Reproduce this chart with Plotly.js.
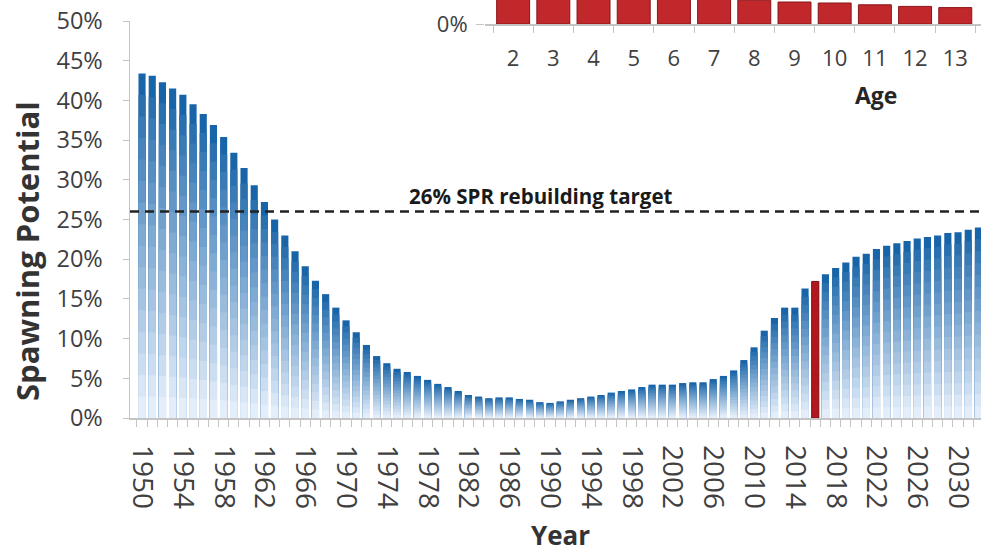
<!DOCTYPE html>
<html><head><meta charset="utf-8">
<script src="https://cdn.plot.ly/plotly-3.0.1.min.js"></script>
<style>html,body{margin:0;padding:0;background:#fff}</style>
</head><body><div id="chart" style="width:981px;height:554px"></div>
<script>
// ---- data ----
const years = [1950,1951,1952,1953,1954,1955,1956,1957,1958,1959,1960,1961,1962,1963,1964,1965,1966,1967,1968,1969,
  1970,1971,1972,1973,1974,1975,1976,1977,1978,1979,1980,1981,1982,1983,1984,1985,1986,1987,1988,1989,
  1990,1991,1992,1993,1994,1995,1996,1997,1998,1999,2000,2001,2002,2003,2004,2005,2006,2007,2008,2009,
  2010,2011,2012,2013,2014,2015,2016,2017,2018,2019,2020,2021,2022,2023,2024,2025,2026,2027,2028,2029,
  2030,2031,2032];
const spawningPotential = [43.4,43.1,42.3,41.5,40.7,39.5,38.3,36.9,35.4,33.4,31.5,29.3,27.2,25.0,23.0,21.0,19.1,17.3,15.6,13.9,
  12.3,10.8,9.2,7.8,6.9,6.2,5.8,5.3,4.8,4.3,3.9,3.4,2.9,2.7,2.5,2.6,2.6,2.4,2.3,2.0,
  1.9,2.1,2.3,2.5,2.7,2.9,3.2,3.4,3.6,3.9,4.2,4.2,4.2,4.4,4.5,4.5,4.9,5.3,6.0,7.3,
  8.9,11.0,12.6,13.9,13.9,16.3,17.2,18.1,18.9,19.6,20.3,20.7,21.3,21.7,22.0,22.3,22.6,22.8,23.0,23.3,
  23.4,23.7,24.0];
const highlightYear = 2016;
const targetLevel = 26;
const targetLabel = '26% SPR rebuilding target';
const yearTicks = [1950,1954,1958,1962,1966,1970,1974,1978,1982,1986,1990,1994,1998,2002,2006,2010,2014,2018,2022,2026,2030];
const yTicks = [0,5,10,15,20,25,30,35,40,45,50];
const ages = [2,3,4,5,6,7,8,9,10,11,12,13];
const ageValues = [30,28,24,20,16,13,11.9,11.0,10.5,9.6,8.8,8.2];
const ageTicks = [0];

// ---- helpers ----
const W = 981, H = 554;
const px = x => x / W, py = y => 1 - y / H;
const FONT = 'Open Sans';
const TXT = '#404040';
const AX = '#c4c4c4';
const topC = [24, 100, 168], botC = [228, 238, 250];
const RED = '#b3171d';
function lerp(t){
  const c = topC.map((a,i)=>Math.round(a + (botC[i]-a)*t));
  return 'rgb(' + c.join(',') + ')';
}

const traces = [];
traces.push({
  type:'bar', x: years, y: spawningPotential, width: 0.7,
  marker:{color: years.map(y => y === highlightYear ? RED : lerp(0)),
          line:{width: years.map(y => y === highlightYear ? 1 : 0), color:'#7a0c10'}},
  xaxis:'x', yaxis:'y', hoverinfo:'x+y'
});
const K = 16;
for (let k = 1; k < K; k++) {
  traces.push({
    type:'bar', x: years, width: 0.7,
    y: spawningPotential.map((v,i) => years[i] === highlightYear ? null : v * (1 - k / K)),
    marker:{color: lerp(Math.pow(k/(K-1), 0.9)), line:{width:0}},
    xaxis:'x', yaxis:'y', hoverinfo:'skip'
  });
}
traces.push({
  type:'bar', x: ages, y: ageValues, width: 0.82,
  marker:{color:'#c0282b', line:{width:1, color:'#8a1518'}},
  xaxis:'x2', yaxis:'y2', cliponaxis:true
});

const layout = {
  width: W, height: H,
  margin:{l:0, r:0, t:0, b:0},
  paper_bgcolor:'#fff', plot_bgcolor:'rgba(0,0,0,0)',
  showlegend:false, barmode:'overlay',
  font:{family: FONT, color: TXT},
  xaxis:{
    domain:[px(130), 1], range:[1948.82, 2032.25], anchor:'y',
    tickmode:'array', tickvals: yearTicks, ticktext: yearTicks.map(String),
    tickangle: 90, tickfont:{size:28, color:TXT, family:FONT},
    ticks:'outside', ticklen:7, tickcolor:'rgba(0,0,0,0)', ticklabelstandoff: 13,
    minor:{ticks:'outside', tick0:1949.5, dtick:1, ticklen:7, tickcolor:AX, tickwidth:1, showgrid:false},
    showline:true, linecolor:AX, linewidth:1.5, showgrid:false, zeroline:false
  },
  yaxis:{
    domain:[py(418), py(21)], range:[0, 50], anchor:'x',
    tickmode:'array', tickvals: yTicks, ticktext: yTicks.map(v => v + '%'),
    tickfont:{size:23.5, color:TXT, family:FONT},
    ticks:'outside', ticklen:6, tickcolor:AX, ticklabelstandoff: 15,
    showline:true, linecolor:AX, linewidth:1.5, showgrid:false, zeroline:false
  },
  xaxis2:{
    domain:[px(485), 1], range:[1.30, 13.64], anchor:'y2',
    tickmode:'array', tickvals: ages, ticktext: ages.map(String),
    tickfont:{size:22, color:TXT, family:FONT},
    ticks:'outside', ticklen:6, tickcolor:'rgba(0,0,0,0)', ticklabelstandoff: 8,
    minor:{ticks:'outside', tick0:1.5, dtick:1, ticklen:7, tickcolor:AX, tickwidth:1, showgrid:false},
    showline:true, linecolor:AX, linewidth:1.5, showgrid:false, zeroline:false
  },
  yaxis2:{
    domain:[py(24), 1], range:[0, 12], anchor:'x2',
    tickmode:'array', tickvals: ageTicks, ticktext: ageTicks.map(v => v + '%'),
    tickfont:{size:22, color:TXT, family:FONT},
    ticks:'outside', ticklen:8, tickcolor:AX, ticklabelstandoff: 4,
    showline:false, showgrid:false, zeroline:false
  },
  shapes:[{
    type:'line', xref:'paper', yref:'y', x0: px(130), x1: 1, y0: targetLevel, y1: targetLevel,
    line:{color:'#222', width:2.5, dash:'9px,6px'}
  }],
  annotations:[
    {text: targetLabel, xref:'paper', yref:'paper', x: px(541), y: py(196), showarrow:false,
     font:{size:20.5, weight:'bold', color:'#1a1a1a', family:FONT}, xanchor:'center', yanchor:'middle'},
    {text:'Spawning Potential', xref:'paper', yref:'paper', x: px(27), y: py(251), showarrow:false, textangle:-90,
     font:{size:31, weight:'bold', color:'#333', family:FONT}, xanchor:'center', yanchor:'middle'},
    {text:'Year', xref:'paper', yref:'paper', x: px(560), y: py(535), showarrow:false,
     font:{size:26, weight:'bold', color:'#333', family:FONT}, xanchor:'center', yanchor:'middle'},
    {text:'Age', xref:'paper', yref:'paper', x: px(876), y: py(95), showarrow:false,
     font:{size:23, weight:'bold', color:'#262626', family:FONT}, xanchor:'center', yanchor:'middle'}
  ]
};

Plotly.newPlot('chart', traces, layout, {staticPlot:true, displayModeBar:false});
</script>
</body></html>
